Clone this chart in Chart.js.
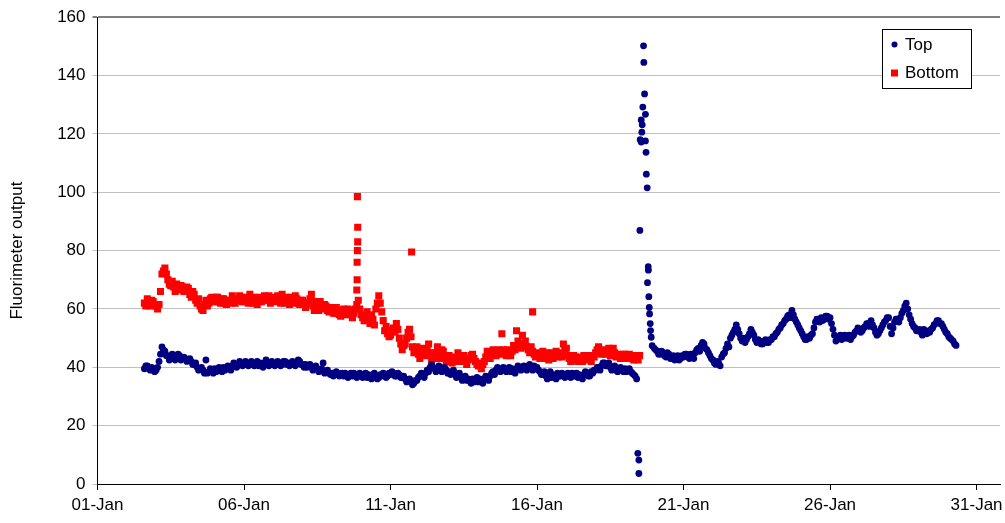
<!DOCTYPE html>
<html>
<head>
<meta charset="utf-8">
<title>Fluorimeter output</title>
<script src="https://cdn.jsdelivr.net/npm/chart.js@4.4.1/dist/chart.umd.min.js"></script>
<style>
	body { margin: 0; background: #fff; }
	#wrap { width: 1005px; height: 523px; }
</style>
</head>
<body>
<div id="wrap"><canvas id="fluoChart" width="1005" height="523"></canvas></div>
<script>
// logger readings, two per 0.1 day (A on the tenth, B half a step later)
var sampleStep = 0.1;
var halfStep = 0.05;

// Top sensor, 02-Jan to 19-Jan (x = day of January)
var topStart1 = 2.6;
var topValues1 = [
	39.5, 40.5, 39, 39.5,
	39, 42, 47, 45.5, 44, 43.5, 44, 43.5, 44, 43,
	43, 42.5, 42, 41, 40, 39.5, 39, 42.5, 38.5, 39,
	39.5, 39, 39.5, 40, 39.5, 40, 40.5, 41, 41, 41.5,
	41, 41.5, 41, 41.5, 41, 40.5, 41, 41.5, 41, 41.5,
	41, 41, 41.5, 41, 42, 41.5, 41, 41, 41.5, 42,
	41, 41, 40.5, 40, 40, 39.5, 39, 41.5, 38.5, 38,
	38, 37.5, 38, 37.5, 37, 37.5, 37.5, 37, 37.5, 37,
	37.5, 37, 36.5, 37, 37.5, 37, 36.5, 37, 37.5, 37,
	37.5, 38, 37, 37.5, 36.5, 36, 35.5, 35, 34.5, 35.5,
	37, 37.5, 38, 38.5, 41, 39.5, 39, 40, 39.5, 39,
	38.5, 38, 37.5, 37, 36.5, 36, 35.5, 35.5, 36, 35.5,
	35, 35.5, 36, 36.5, 37, 38.5, 39, 39.5, 39, 39.5,
	39, 38.5, 39, 39.5, 40, 39.5, 40, 40.5, 40, 40.5,
	40, 38.5, 37.5, 37, 37.5, 36.5, 37, 38, 37, 37.5,
	37, 37.5, 38, 37, 36.5, 37, 37.5, 38, 37, 38,
	39, 40, 40.5, 41.5, 40.5, 40, 39.5, 39, 39.5, 39,
	39.5, 39, 38.5, 37.5, 36
];
var topValues1B = [
	40.5, 39.5, 40, 38.5,
	40, 44.5, 46, 44, 42.5, 44.5, 42.5, 44.5, 42.5, 43.5,
	42, 43, 41, 41.5, 39, 40, 38, 38, 39.5, 38,
	38.5, 40, 38.5, 39, 40.5, 39, 41.5, 40, 42, 40.5,
	42, 40.5, 42, 40.5, 42, 41.5, 40, 42.5, 40.5, 42,
	40.5, 42, 40.5, 42, 41, 40.5, 42, 40.5, 42.5, 41,
	40, 40, 41, 39, 40.5, 38.5, 39.5, 38, 39, 37.5,
	37, 38.5, 37, 38, 38, 36.5, 38, 38, 36.5, 38,
	36.5, 38, 37.5, 36, 38, 36, 37.5, 38, 36.5, 38,
	38.5, 37, 38, 36.5, 37, 35, 36, 34, 35.5, 36.5,
	38, 36.5, 39, 40, 40, 38.5, 40.5, 38.5, 40, 38,
	37.5, 39, 36.5, 38, 35.5, 37, 36, 34.5, 35, 36.5,
	36, 34.5, 37, 35.5, 38, 37.5, 40, 38.5, 40, 38.5,
	40, 39.5, 38, 40.5, 39, 40.5, 39, 41, 39, 39.5,
	39, 37.5, 38.5, 36, 38.5, 37.5, 36, 37, 38, 36.5,
	38, 36.5, 37, 38, 37.5, 36, 38.5, 37, 38.5, 39,
	40, 39, 41.5, 40.5, 41.5, 39, 40.5, 38.5, 40, 38.5,
	38.5, 39.5, 38, 37
];

// Top sensor, the disturbance late on 19-Jan
var topSpikeDays = [19.44, 19.475, 19.475, 19.51, 19.52, 19.556, 19.556, 19.577, 19.59, 19.61, 19.635, 19.645, 19.67, 19.70,
	19.70, 19.72, 19.73, 19.76, 19.795, 19.80, 19.77, 19.815, 19.83, 19.84, 19.863, 19.874, 19.897, 19.93];
var topSpikeValues = [10.5, 8.2, 3.6, 86.9, 118, 117.2, 124.8, 120.6, 123.1, 129.2, 150.2, 144.5, 133.7, 126.7,
	117.6, 113.7, 106.2, 101.5, 74.5, 73.3, 69, 64.2, 60.5, 58.3, 55, 52.6, 50.3, 47.4];

// Top sensor, 20-Jan to 30-Jan
var topStart2 = 20.0;
var topValues2 = [
	46.5, 45.5, 44.5, 45, 43.5, 44.5, 43, 42.5, 44, 43,
	43.5, 44.5, 43, 44, 45, 46.5, 47.5, 48, 46, 44,
	42.5, 41, 41.5, 43.5, 45, 48, 50, 52, 54.5, 51.5,
	49, 48.5, 50.5, 53, 51, 48.5, 49, 48, 49.5, 48.5,
	49.5, 50.5, 52, 53.5, 55, 56.5, 58, 59.5, 56.5, 54.5,
	52.5, 50.5, 49.5, 50, 51.5, 55.5, 56.5, 57, 56.5, 57.5,
	57, 53, 49, 50, 49.5, 51, 50, 49.5, 51, 52.5,
	53, 52.5, 54, 55, 56, 53.5, 51, 52.5, 54.5, 56,
	57, 51.5, 55.5, 56.5, 57, 59.5, 62, 58, 55, 53.5,
	52.5, 52, 53, 51.5, 52, 53.5, 55, 56, 55, 53,
	51.5, 50, 49, 47.5
];
var topValues2B = [
	46, 44.5, 45.5, 44, 45, 43, 44, 43.5, 42.5, 44,
	44.5, 43.5, 44.5, 43, 46, 45.5, 48.5, 46.5, 45, 43,
	41.5, 42, 40.5, 44.5, 46.5, 47, 51, 53, 53, 50,
	50, 49.5, 51.5, 52, 49.5, 49.5, 48, 49, 48.5, 49.5,
	50.5, 51.5, 53, 54.5, 56, 57.5, 57, 58, 55.5, 53.5,
	51.5, 49.5, 50.5, 51, 53.5, 56.5, 55.5, 56, 57.5, 56.5,
	55, 51, 49.5, 51, 50.5, 50, 51, 50.5, 52, 53.5,
	52, 53.5, 55, 54, 54.5, 52, 51.5, 53.5, 55.5, 57,
	54, 53.5, 56.5, 55.5, 58.5, 61, 60, 56.5, 54, 52.5,
	53, 51, 52, 52.5, 53, 54.5, 56, 55, 54, 52,
	50.5, 49.5, 48
];

// Bottom sensor, 02-Jan to 19-Jan
var bottomStart = 2.6;
var bottomValues = [
	62, 63.5, 61, 62.5,
	61, 61.5, 72, 74, 70, 68, 67.5, 68.5, 66.5, 67.5,
	66, 67, 64, 65, 62, 61, 59.5, 63, 62, 64,
	62.5, 64, 62, 63.5, 61.5, 63, 64.5, 62, 63, 64,
	62.5, 63.5, 65, 62, 63, 64, 62.5, 64.5, 63, 62,
	64, 62.5, 63.5, 65, 62, 63, 64, 62, 63.5, 61.5,
	63, 60.5, 62, 65, 59.5, 61, 62.5, 60, 61, 59,
	60, 58.5, 59.5, 57.5, 60, 58, 59.5, 57, 60, 63,
	58, 56, 59, 55, 56.5, 60, 64.5, 59, 52.5, 51.5,
	51, 53.5, 55, 50, 46, 48, 52, 50.5, 45, 47,
	43, 46.5, 44, 48, 42.5, 45, 47, 43, 45.5, 42,
	44, 41.5, 43.5, 45, 42, 44, 41, 43, 44.5, 42,
	40.5, 39.5, 42, 45.5, 43, 46, 44, 46, 51.5, 45,
	46, 44, 47.5, 52.5, 48, 51, 49, 46, 47, 44.5,
	45, 43, 45.5, 44, 42.5, 45, 44, 43.5, 45, 48,
	46.5, 43, 42.5, 43.5, 42, 43, 44, 42.5, 43, 44,
	45, 47, 44.5, 46, 45, 44, 46.5, 43.5, 44, 43,
	44.5, 43, 44, 42.5, 43.5, 44
];
var bottomValuesB = [
	61, 62, 63, 61.5,
	60, 66, 73, 72, 68.5, 69.5, 66, 67, 68, 66,
	67.5, 65, 66, 63, 63.5, 60, 61.5, 61, 63.5, 62.5,
	64, 62.5, 63.5, 62, 63, 62, 63, 63.5, 64.5, 62.5,
	64, 62, 63.5, 64, 61.5, 62.5, 63.5, 63, 64.5, 63.5,
	63, 64.5, 62, 63.5, 64, 61.5, 63, 64.5, 62, 63,
	61.5, 62, 63.5, 61, 62.5, 59.5, 61, 61.5, 59.5, 60.5,
	58.5, 60.5, 58, 59, 58.5, 60, 58, 58.5, 61.5, 60,
	57, 57.5, 57, 58, 54.5, 62, 62, 56, 54, 50.5,
	52.5, 52, 53, 48, 47.5, 50, 53, 47, 46.5, 44.5,
	45, 44.5, 46, 45, 44, 43, 45, 46, 43.5, 44,
	43, 43, 42, 43.5, 43.5, 42.5, 42.5, 44, 43, 41,
	41.5, 41, 43.5, 44, 44.5, 45, 45.5, 44.5, 46, 44,
	45, 45.5, 46, 49, 46.5, 48, 47, 45, 45.5, 43.5,
	44, 44.5, 43, 45, 44, 43, 45.5, 44.5, 43.5, 46,
	44, 42, 44, 42.5, 43.5, 42, 43, 44, 42, 43.5,
	46, 45.5, 45, 44.5, 46.5, 45, 45, 44.5, 43, 44.5,
	43.5, 44.5, 43, 44, 42.5
];

// Bottom sensor, isolated readings
var bottomSpikeDays = [9.87, 9.88, 9.88, 9.87, 9.86, 9.86, 9.85, 11.72, 15.85];
var bottomSpikeValues = [98.5, 88, 83, 80, 76, 70, 66.5, 79.5, 59];

var xTickDays = [1, 6, 11, 16, 21, 26, 31];
var xTickLabels = ['01-Jan', '06-Jan', '11-Jan', '16-Jan', '21-Jan', '26-Jan', '31-Jan'];
var yTickValues = [0, 20, 40, 60, 80, 100, 120, 140, 160];

var seriesNames = ['Top', 'Bottom'];
var seriesColors = ['#000080', '#FF0000'];

function sampled(start, values) {
	var pts = [];
	for (var i = 0; i < values.length; i++) {
		pts.push({ x: start + i * sampleStep, y: values[i] });
	}
	return pts;
}

function paired(days, values) {
	var pts = [];
	for (var i = 0; i < days.length; i++) {
		pts.push({ x: days[i], y: values[i] });
	}
	return pts;
}

var topData = sampled(topStart1, topValues1)
	.concat(sampled(topStart1 + halfStep, topValues1B))
	.concat(paired(topSpikeDays, topSpikeValues))
	.concat(sampled(topStart2, topValues2))
	.concat(sampled(topStart2 + halfStep, topValues2B));
var bottomData = sampled(bottomStart, bottomValues)
	.concat(sampled(bottomStart + halfStep, bottomValuesB))
	.concat(paired(bottomSpikeDays, bottomSpikeValues));

var FONT = 'Arial, "Liberation Sans", sans-serif';

// legend box drawn inside the plot, like the spreadsheet one
var boxLegend = {
	id: 'boxLegend',
	afterDraw: function(chart) {
		var ctx = chart.ctx;
		var x = 882.5, y = 29.5, w = 89, h = 59;
		ctx.save();
		ctx.fillStyle = '#fff';
		ctx.fillRect(x, y, w, h);
		ctx.strokeStyle = '#000';
		ctx.lineWidth = 1;
		ctx.strokeRect(x, y, w, h);
		ctx.font = '17px ' + FONT;
		ctx.textBaseline = 'middle';
		ctx.fillStyle = seriesColors[0];
		ctx.beginPath();
		ctx.arc(894.5, 44.5, 3, 0, Math.PI * 2);
		ctx.fill();
		ctx.fillStyle = seriesColors[1];
		ctx.fillRect(891, 69.5, 7, 7);
		ctx.fillStyle = '#000';
		ctx.fillText(seriesNames[0], 905, 45);
		ctx.fillText(seriesNames[1], 905, 73.5);
		ctx.restore();
	}
};

new Chart('fluoChart', {
	type: 'scatter',
	data: {
		datasets: [{
			label: seriesNames[0],
			data: topData,
			pointStyle: 'circle',
			pointRadius: 3.4,
			pointBorderWidth: 0,
			backgroundColor: seriesColors[0],
			borderColor: seriesColors[0]
		}, {
			label: seriesNames[1],
			data: bottomData,
			pointStyle: 'rect',
			pointRadius: 5,
			pointBorderWidth: 0,
			backgroundColor: seriesColors[1],
			borderColor: seriesColors[1]
		}]
	},
	options: {
		responsive: false,
		animation: false,
		devicePixelRatio: 1,
		layout: { padding: { top: 15, right: 1, left: 0, bottom: 0 } },
		plugins: {
			legend: { display: false },
			tooltip: { enabled: false }
		},
		scales: {
			x: {
				type: 'linear',
				min: 1,
				max: 31.8,
				afterBuildTicks: function(scale) {
					scale.ticks = xTickDays.map(function(v) { return { value: v }; });
				},
				afterFit: function(scale) {
					scale.height = 39;
					scale.paddingLeft = 0;
					scale.paddingRight = 0;
				},
				ticks: {
					autoSkip: false,
					maxRotation: 0,
					padding: 5,
					color: '#000',
					font: { family: FONT, size: 17 },
					callback: function(value) {
						var i = xTickDays.indexOf(value);
						return i >= 0 ? xTickLabels[i] : '';
					}
				},
				grid: { display: true, drawOnChartArea: false, drawTicks: true, tickLength: 6, color: '#000' },
				border: { display: true, color: '#000', width: 1 }
			},
			y: {
				min: 0,
				max: 160,
				afterBuildTicks: function(scale) {
					scale.ticks = yTickValues.map(function(v) { return { value: v }; });
				},
				afterFit: function(scale) { scale.width = 97.5; },
				ticks: {
					padding: 7,
					color: '#000',
					font: { family: FONT, size: 17 }
				},
				grid: {
					tickLength: 5,
					color: function(c) { return c.tick && c.tick.value === 160 ? '#808080' : '#c0c0c0'; },
					lineWidth: function(c) { return c.tick && c.tick.value === 160 ? 2 : 1; }
				},
				border: { display: true, color: '#000', width: 1 },
				title: {
					display: true,
					text: 'Fluorimeter output',
					color: '#000',
					font: { family: FONT, size: 17 },
					padding: { top: 7, bottom: 0 }
				}
			}
		}
	},
	plugins: [boxLegend]
});
</script>
</body>
</html>
